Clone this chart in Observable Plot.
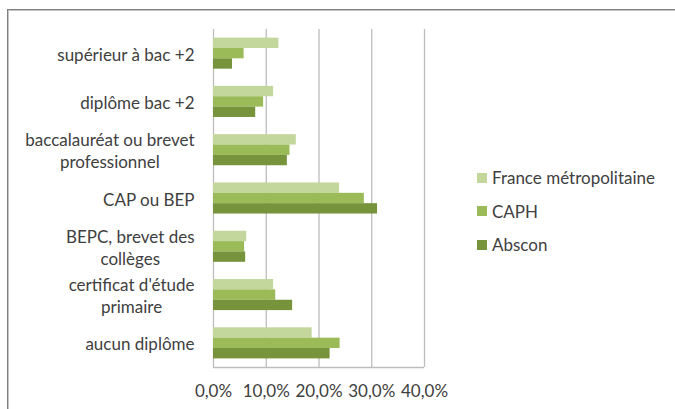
<!DOCTYPE html>
<html>
<head>
<meta charset="utf-8">
<script src="https://cdn.jsdelivr.net/npm/d3@7"></script>
<script src="https://cdn.jsdelivr.net/npm/@observablehq/plot@0.6"></script>
<style>
  html, body { margin: 0; padding: 0; background: #fff; }
  #wrap { position: relative; width: 675px; height: 409px; overflow: hidden; font-family: Lato, sans-serif; }
  #border { position: absolute; left: 7px; top: 9px; width: 800px; height: 600px;
            border-top: 1px solid #7f7f7f; border-left: 1px solid #7f7f7f;
            box-shadow: inset 1px 1px 0 #c4c4c4; pointer-events: none; }
  #chart { position: absolute; left: 0; top: 0; }
  #legend { position: absolute; left: 477px; top: 161px; }
  .row { display: flex; align-items: center; height: 33.5px; font-size: 17px; color: #404040; white-space: nowrap; }
  .sw { width: 10px; height: 10px; margin-right: 5px; }
</style>
</head>
<body>
<div id="wrap"><div id="chart"></div><div id="border"></div><div id="legend"></div></div>
<script>
const categories = [
  "supérieur à bac +2",
  "diplôme bac +2",
  "baccalauréat ou brevet\nprofessionnel",
  "CAP ou BEP",
  "BEPC, brevet des\ncollèges",
  "certificat d'étude\nprimaire",
  "aucun diplôme"
];
const seriesNames = ["France métropolitaine", "CAPH", "Abscon"];
const france = [12.4, 11.4, 15.7, 23.9, 6.3, 11.4, 18.7];
const caph   = [5.8, 9.5, 14.5, 28.6, 5.9, 11.8, 24.0];
const abscon = [3.6, 8.0, 14.0, 31.1, 6.1, 15.0, 22.1];
const xTicks = [0, 10, 20, 30, 40];
const colors = ["#c3d69b", "#9bbb59", "#77933c"];

// band layout in data units: one unit per category, bars grouped with a gap
const n = categories.length;
const catBand = d3.scaleBand(categories, [0, n]).paddingInner(0.357).paddingOuter(0.1785);
const serBand = d3.scaleBand(seriesNames, [0, catBand.bandwidth()]);
const seriesValues = [france, caph, abscon];
const data = categories.flatMap((c, i) =>
  seriesValues.map((arr, j) => {
    const y1 = catBand(c) + serBand(seriesNames[j]);
    return {cat: c, series: seriesNames[j], value: arr[i], y1, y2: y1 + serBand.bandwidth()};
  }));
const labels = categories.map((c, i) => ({text: c, y: i + 0.5}));

const fmt = d => d.toFixed(1).replace(".", ",") + "%";
const gridColor = "#bdbdbd";

const chart = Plot.plot({
  width: 675, height: 409,
  marginLeft: 213, marginRight: 251, marginTop: 29, marginBottom: 42,
  style: {fontFamily: "Lato, sans-serif", fontSize: "17px", color: "#404040", background: "transparent", overflow: "visible"},
  x: {domain: [0, 40]},
  y: {domain: [0, n], reverse: true, axis: null},
  color: {domain: seriesNames, range: colors},
  marks: [
    Plot.ruleX(xTicks, {stroke: gridColor, strokeWidth: 1.3}),
    Plot.ruleY([n], {stroke: gridColor, strokeWidth: 1.3}),
    Plot.rectX(data, {y1: "y1", y2: "y2", x1: 0, x2: "value", fill: "series"}),
    Plot.text(labels, {y: "y", text: "text", frameAnchor: "left", textAnchor: "end", dx: -19, lineHeight: 1.3, fill: "#404040"}),
    Plot.axisX(xTicks, {anchor: "bottom", tickSize: 0, tickPadding: 17, tickFormat: fmt, fill: "#404040", label: null})
  ]
});
document.getElementById("chart").appendChild(chart);

// center the lines of multi-line labels, keeping the block right-aligned
chart.querySelectorAll('g[aria-label="text"] text').forEach(t => {
  const spans = t.querySelectorAll("tspan");
  if (spans.length < 2) return;
  let w = 0;
  spans.forEach(s => { w = Math.max(w, s.getComputedTextLength()); });
  t.setAttribute("text-anchor", "middle");
  t.style.textAnchor = "middle";
  spans.forEach(s => s.setAttribute("x", -w / 2));
});

// legend
const legend = d3.select("#legend");
seriesNames.forEach((name, i) => {
  const row = legend.append("div").attr("class", "row");
  row.append("div").attr("class", "sw").style("background", colors[i]);
  row.append("span").text(name);
});
</script>
</body>
</html>
